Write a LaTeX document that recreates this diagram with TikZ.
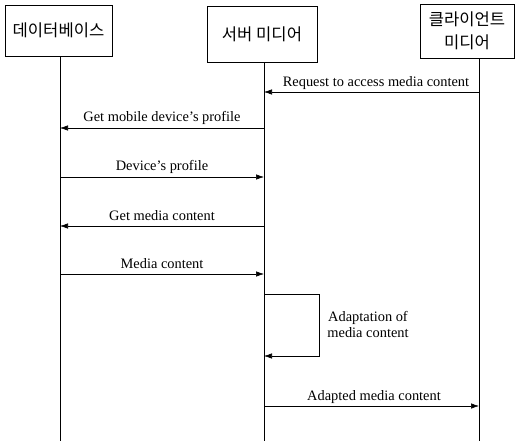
\documentclass[tikz,border=0pt]{standalone}
\usepackage{fontspec}
\setmainfont{Liberation Serif}
\newfontfamily\krfont{Noto Sans CJK KR}
\usetikzlibrary{arrows.meta}
\begin{document}
\begin{tikzpicture}[x=1pt,y=-1pt,
  actor/.style={draw,line width=0.6pt,inner sep=0pt,align=center,
    font=\krfont\fontsize{16.6}{23}\selectfont},
  life/.style={line width=0.6pt},
  msg/.style={line width=0.6pt,-{Latex[length=8pt,width=5.5pt]}},
  lbl/.style={font=\fontsize{14.4}{16}\selectfont,inner sep=0pt}]
\useasboundingbox (0,0) rectangle (530,441);

% participants
\node[actor,minimum width=107pt,minimum height=51pt] (db) at (58.5,30.5) {데이터베이스};
\node[actor,minimum width=110pt,minimum height=56pt] (srv) at (262,34.5) {서버 미디어};
\node[actor,minimum width=94pt,minimum height=54pt] (cli) at (467,31) {클라이언트\\미디어};

% lifelines
\coordinate (dbend) at (60,441);
\coordinate (srvend) at (264,441);
\coordinate (cliend) at (479,441);
\draw[life] (db.south -| dbend) -- (dbend);
\draw[life] (srv.south -| srvend) -- (srvend);
\draw[life] (cli.south -| cliend) -- (cliend);

% message end points on the lifelines
\coordinate (c1) at (479,92);  \coordinate (s1) at (264,92);
\coordinate (s2) at (264,128); \coordinate (d2) at (60,128);
\coordinate (d3) at (60,177);  \coordinate (s3) at (264,177);
\coordinate (s4) at (264,226); \coordinate (d4) at (60,226);
\coordinate (d5) at (60,274);  \coordinate (s5) at (264,274);
\coordinate (s6a) at (264,294); \coordinate (s6b) at (264,356);
\coordinate (s7) at (264,406); \coordinate (c7) at (479,406);

% messages
\draw[msg] (c1) -- (s1);
\draw[msg] (s2) -- (d2);
\draw[msg] (d3) -- (s3);
\draw[msg] (s4) -- (d4);
\draw[msg] (d5) -- (s5);
\draw[msg] (s6a) -- ++(55,0) |- (s6b);
\draw[msg] (s7) -- (c7);

% labels
\node[lbl,anchor=base] (l1) at (376,87) {Request to access media content};
\node[lbl,anchor=base] (l2) at (162,122) {Get mobile device’s profile};
\node[lbl,anchor=base] (l3) at (162,171) {Device’s profile};
\node[lbl,anchor=base] (l4) at (162,220) {Get media content};
\node[lbl,anchor=base] (l5) at (162,268) {Media content};
\node[lbl,anchor=base,align=center] (l6) at (368,337) {Adaptation of\\media content};
\node[lbl,anchor=base] (l7) at (374,400) {Adapted media content};
\end{tikzpicture}
\end{document}
